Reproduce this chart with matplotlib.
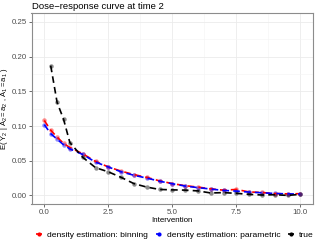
import matplotlib
matplotlib.use("Agg")
import matplotlib.pyplot as plt
from matplotlib.lines import Line2D
from matplotlib.ticker import MultipleLocator

plt.rcParams["font.family"] = ["Liberation Sans", "DejaVu Sans"]
plt.rcParams["mathtext.fontset"] = "custom"
plt.rcParams["mathtext.rm"] = "Liberation Sans"
plt.rcParams["mathtext.it"] = "Liberation Sans"

x_est = [0, 0.25, 0.5, 0.75, 1.0, 1.5, 2.0, 2.5, 3.0, 3.5, 4.0, 4.5, 5.0,
         5.5, 6.0, 6.5, 7.0, 7.5, 8.0, 8.5, 9.0, 9.5, 10.0]
binning = [0.108, 0.094, 0.084, 0.075, 0.069, 0.060, 0.049, 0.041, 0.035, 0.030,
           0.026, 0.021, 0.017, 0.014, 0.012, 0.0095, 0.0075, 0.0086, 0.005,
           0.0042, 0.0027, 0.0022, 0.0025]
parametric = [0.102, 0.089, 0.081, 0.073, 0.067, 0.059, 0.048, 0.041, 0.034, 0.029,
              0.025, 0.0205, 0.0168, 0.0135, 0.0112, 0.0092, 0.0072, 0.0062, 0.0048,
              0.0038, 0.0028, 0.0022, 0.0020]
x_true = [0.25, 0.5, 0.75, 1.0, 1.5, 2.0, 2.5, 3.0, 3.5, 4.0, 4.5, 5.0,
          5.5, 6.0, 6.5, 7.0, 7.5, 8.0, 8.5, 9.0, 9.5, 10.0]
true_vals = [0.187, 0.134, 0.110, 0.076, 0.055, 0.040, 0.034, 0.026, 0.017, 0.012,
             0.0086, 0.008, 0.0076, 0.0065, 0.0035, 0.004, 0.003, 0.0015, 0.0006,
             0.001, 0.0, 0.0015]

labels = ["density estimation: binning", "density estimation: parametric", "true"]
colors = ["#FF0000", "#0000FF", "#000000"]

fig = plt.figure(figsize=(3.15, 2.45), dpi=100)
ax = fig.add_axes([0.1, 0.167, 0.894, 0.779])

series = [(x_est, binning), (x_est, parametric), (x_true, true_vals)]
for (xs, ys), c in zip(series, colors):
    ax.plot(xs, ys, linestyle="none", marker="o", markersize=3.2, color=c,
            alpha=0.45, markeredgewidth=0, zorder=3)
for (xs, ys), c in zip(series, colors):
    ax.plot(xs, ys, linestyle=(0, (4, 2.5)), linewidth=1.2, color=c, zorder=4)

ax.set_xlim(-0.5, 10.5)
ax.set_ylim(-0.0125, 0.2625)
ax.xaxis.set_minor_locator(MultipleLocator(1.25))
ax.yaxis.set_minor_locator(MultipleLocator(0.025))
ax.set_xticks([0, 2.5, 5, 7.5, 10])
ax.set_xticklabels(["0.0", "2.5", "5.0", "7.5", "10.0"])
ax.set_yticks([0, 0.05, 0.10, 0.15, 0.20, 0.25])
ax.set_yticklabels(["0.00", "0.05", "0.10", "0.15", "0.20", "0.25"])
ax.grid(which="major", color="#EBEBEB", linewidth=0.6, zorder=0)
ax.grid(which="minor", color="#F4F4F4", linewidth=0.4, zorder=0)
ax.set_axisbelow(True)
ax.tick_params(which="major", length=2, width=0.5, color="#333333",
               labelsize=5.7, labelcolor="#4D4D4D", pad=1.5)
ax.tick_params(which="minor", length=0)
for s in ax.spines.values():
    s.set_color("#8C8C8C")
    s.set_linewidth(0.8)

ax.set_xlabel("Intervention", fontsize=5.7, labelpad=1)
ax.set_ylabel(r"E( $\mathrm{Y_2}$ | $\mathrm{A_2 = a_2}$ , $\mathrm{A_1 = a_1}$ )",
              fontsize=5.5, labelpad=1)
ax.set_title("Dose\u2212response curve at time 2", fontsize=6.8, loc="left", pad=3,
             x=0.0)

handles = [Line2D([0], [0], color=c, linestyle=(0, (1.5, 1)), linewidth=1.2,
                  marker="o", markersize=3, markeredgewidth=0) for c in colors]
fig.legend(handles, labels, loc="center", bbox_to_anchor=(0.555, 0.041), ncol=3,
           frameon=False, fontsize=6.1, handlelength=0.7, handletextpad=0.6,
           columnspacing=0.9, borderaxespad=0)

fig.savefig("out.png", dpi=100)
